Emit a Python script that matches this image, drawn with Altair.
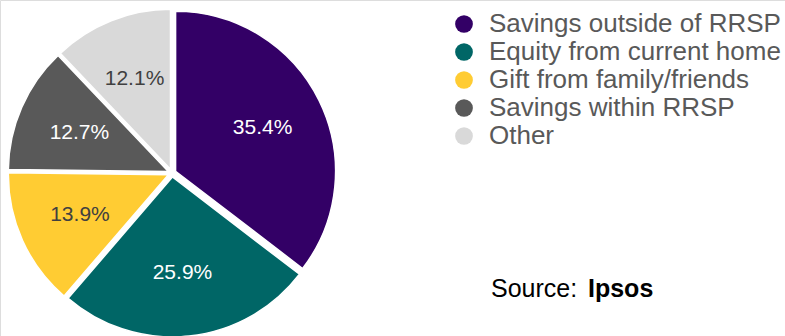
import math
import altair as alt
import pandas as pd

categories = ["Savings outside of RRSP", "Equity from current home", "Gift from family/friends",
              "Savings within RRSP", "Other"]
values = [35.4, 25.9, 13.9, 12.7, 12.1]
slice_labels = ["35.4%", "25.9%", "13.9%", "12.7%", "12.1%"]
colors = ["#330066", "#006666", "#FFCC33", "#595959", "#D9D9D9"]
label_colors = ["#FFFFFF", "#FFFFFF", "#404040", "#FFFFFF", "#404040"]
source_prefix = "Source:"
source_name = "Ipsos"

df = pd.DataFrame({
    "cat": categories,
    "val": values,
    "lab": slice_labels,
    "lcol": label_colors,
    "ord": list(range(len(categories))),
})

CX, CY, R, OFF = 172, 173, 160, 4
TWO_PI = 2 * math.pi

base = (
    alt.Chart(df)
    .transform_window(cum="sum(val)", sort=[alt.SortField("ord")])
    .transform_calculate(
        start="datum.cum - datum.val",
        end="datum.cum",
        mid="datum.cum - datum.val / 2",
    )
    .transform_calculate(
        ex=f"{CX} + {OFF} * sin(datum.mid / 100 * 2 * PI)",
        ey=f"{CY} - {OFF} * cos(datum.mid / 100 * 2 * PI)",
    )
)

theta_scale = alt.Scale(domain=[0, 100], range=[0, TWO_PI])

arcs = base.mark_arc(radius=R, stroke="white", strokeWidth=1.5).encode(
    theta=alt.Theta("start:Q", scale=theta_scale),
    theta2="end:Q",
    x=alt.X("ex:Q", scale=None),
    y=alt.Y("ey:Q", scale=None),
    color=alt.Color(
        "cat:N",
        scale=alt.Scale(domain=categories, range=colors),
        sort=categories,
        legend=alt.Legend(
            title=None,
            orient="none",
            legendX=451,
            legendY=11,
            symbolType="circle",
            symbolSize=314,
            symbolStrokeWidth=0,
            labelFontSize=26,
            labelFont="Liberation Sans",
            labelColor="#595959",
            labelOffset=12,
            rowPadding=2,
            padding=0,
            labelLimit=400,
        ),
    ),
)

texts = base.mark_text(
    radius=97, fontSize=21, font="Liberation Sans", align="center", baseline="middle"
).encode(
    theta=alt.Theta("mid:Q", scale=theta_scale),
    x=alt.X("ex:Q", scale=None),
    y=alt.Y("ey:Q", scale=None),
    text="lab:N",
    color=alt.Color("lcol:N", scale=None),
)

src1 = alt.Chart(pd.DataFrame({"t": [source_prefix]})).mark_text(
    align="left", baseline="middle", fontSize=25, font="Liberation Sans", color="#000000"
).encode(x=alt.value(491), y=alt.value(289), text="t:N")

src2 = alt.Chart(pd.DataFrame({"t": [source_name]})).mark_text(
    align="left", baseline="middle", fontSize=25, font="Liberation Sans", fontWeight="bold",
    color="#000000"
).encode(x=alt.value(588), y=alt.value(289), text="t:N")

chart = (
    alt.layer(arcs, texts, src1, src2)
    .properties(width=785, height=336, autosize=alt.AutoSizeParams(type="none"), padding=0)
    .configure_view(stroke=None)
    .configure(background="white")
)

chart.save("out.html", embed_options={"renderer": "svg", "actions": False})
